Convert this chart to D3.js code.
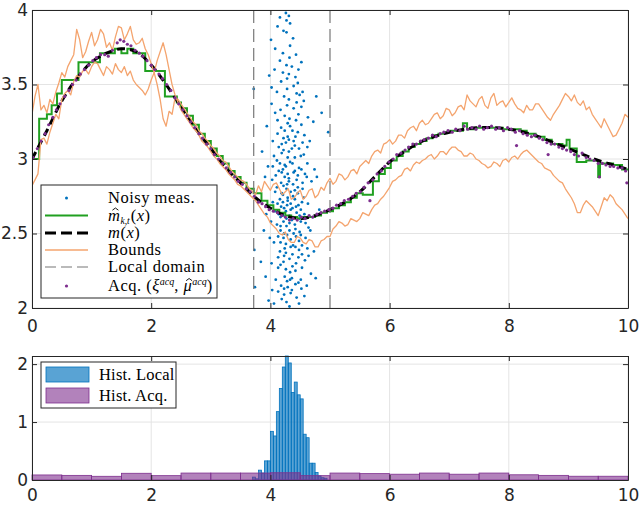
<!DOCTYPE html>
<html>
<head>
<meta charset="utf-8">
<script src="https://cdn.jsdelivr.net/npm/d3@7"></script>
<style>
body { margin: 0; background: #fff; }
svg { display: block; }
.tick text { font-family: "DejaVu Sans", sans-serif; font-size: 17px; fill: #262626; }
.leg { font-family: "Liberation Serif", "Times New Roman", serif; font-size: 16.5px; letter-spacing: 0.5px; fill: #000; }
.leg2 { font-family: "Liberation Serif", "Times New Roman", serif; font-size: 16.5px; letter-spacing: 0.2px; fill: #000; }
.sup { font-size: 10px; letter-spacing: 0; }
.sub { font-size: 9.5px; letter-spacing: 0; }
</style>
</head>
<body>
<svg id="chart" width="640" height="506"></svg>
<script>
// ---- data ----
var xTicks = [0, 2, 4, 6, 8, 10];
var yTicksTop = [2, 2.5, 3, 3.5, 4];
var yTicksBot = [0, 1, 2];
var localDomain = [3.72, 5.0];

// true mean m(x)
var meanX = [0,0.25,0.5,0.75,1,1.25,1.5,1.75,2,2.25,2.5,2.75,3,3.25,3.5,3.75,4,4.25,4.5,4.75,5,
  5.25,5.5,5.75,6,6.25,6.5,6.75,7,7.25,7.5,7.75,8,8.25,8.5,8.75,9,9.25,9.5,9.75,10];
var meanY = [3.00,3.19,3.39,3.54,3.65,3.71,3.74,3.72,3.63,3.50,3.35,3.20,3.07,2.94,2.84,2.74,2.67,2.62,2.60,2.62,2.66,
  2.71,2.78,2.88,2.98,3.05,3.11,3.15,3.18,3.20,3.21,3.21,3.20,3.18,3.15,3.11,3.07,3.03,2.99,2.96,2.93];

// estimate m_hat (piecewise constant)
var estX = [0,0.12,0.25,0.33,0.42,0.50,0.78,1.14,1.39,1.50,1.60,1.70,1.90,2.23,2.43,2.50,2.60,2.70,2.80,2.90,3.00,
  3.10,3.20,3.30,3.40,3.50,3.60,3.72,3.85,3.95,4.05,4.15,4.25,4.35,4.45,4.55,4.65,4.75,4.85,4.95,5.05,5.15,5.25,
  5.35,5.45,5.55,5.72,5.82,5.92,6.02,6.12,6.22,6.32,6.42,6.52,6.62,6.72,6.82,6.92,7.02,7.12,7.23,7.30,7.45,7.60,
  7.75,7.90,8.05,8.20,8.30,8.45,8.60,8.72,8.90,8.97,9.02,9.14,9.30,9.50,9.53,9.75,9.90,10];
var estY = [3.00,3.27,3.30,3.36,3.44,3.53,3.65,3.71,3.74,3.71,3.74,3.71,3.59,3.42,3.38,3.34,3.29,3.23,3.17,3.12,3.07,
  3.02,2.97,2.92,2.88,2.84,2.80,2.77,2.72,2.69,2.66,2.64,2.62,2.61,2.60,2.61,2.61,2.62,2.64,2.65,2.67,2.69,2.71,
  2.74,2.77,2.76,2.85,2.90,2.94,2.99,3.02,3.05,3.08,3.10,3.12,3.14,3.16,3.17,3.18,3.19,3.19,3.24,3.20,3.21,3.21,
  3.21,3.20,3.20,3.19,3.17,3.15,3.13,3.10,3.09,3.13,3.07,2.98,2.99,2.88,2.97,2.96,2.93,2.93];

// bounds, sampled every 0.05
var boundX = [0,0.05,0.1,0.15,0.2,0.25,0.3,0.35,0.4,0.45,0.5,0.55,0.6,0.65,0.7,0.75,0.8,0.85,0.9,0.95,
  1,1.05,1.1,1.15,1.2,1.25,1.3,1.35,1.4,1.45,1.5,1.55,1.6,1.65,1.7,1.75,1.8,1.85,1.9,1.95,
  2,2.05,2.1,2.15,2.2,2.25,2.3,2.35,2.4,2.45,2.5,2.55,2.6,2.65,2.7,2.75,2.8,2.85,2.9,2.95,
  3,3.05,3.1,3.15,3.2,3.25,3.3,3.35,3.4,3.45,3.5,3.55,3.6,3.65,3.7,3.75,3.8,3.85,3.9,3.95,
  4,4.05,4.1,4.15,4.2,4.25,4.3,4.35,4.4,4.45,4.5,4.55,4.6,4.65,4.7,4.75,4.8,4.85,4.9,4.95,
  5,5.05,5.1,5.15,5.2,5.25,5.3,5.35,5.4,5.45,5.5,5.55,5.6,5.65,5.7,5.75,5.8,5.85,5.9,5.95,
  6,6.05,6.1,6.15,6.2,6.25,6.3,6.35,6.4,6.45,6.5,6.55,6.6,6.65,6.7,6.75,6.8,6.85,6.9,6.95,
  7,7.05,7.1,7.15,7.2,7.25,7.3,7.35,7.4,7.45,7.5,7.55,7.6,7.65,7.7,7.75,7.8,7.85,7.9,7.95,
  8,8.05,8.1,8.15,8.2,8.25,8.3,8.35,8.4,8.45,8.5,8.55,8.6,8.65,8.7,8.75,8.8,8.85,8.9,8.95,
  9,9.05,9.1,9.15,9.2,9.25,9.3,9.35,9.4,9.45,9.5,9.55,9.6,9.65,9.7,9.75,9.8,9.85,9.9,9.95,10];
var boundUp = [3.30,3.42,3.50,3.33,3.36,3.31,3.40,3.37,3.45,3.51,3.58,3.55,3.62,3.66,3.70,3.87,3.80,3.68,3.72,3.79,
  3.85,3.76,3.80,3.87,3.84,3.75,3.78,3.73,3.82,3.89,3.88,3.80,3.84,3.89,3.80,3.77,3.78,3.81,3.74,3.70,
  3.64,3.58,3.50,3.40,3.27,3.22,3.32,3.30,3.41,3.40,3.37,3.34,3.31,3.28,3.25,3.23,3.19,3.17,3.14,3.12,
  3.09,3.07,3.04,3.02,2.99,2.98,2.95,2.92,2.90,2.88,2.86,2.85,2.83,2.80,2.78,2.76,2.82,2.78,2.85,2.82,
  2.79,2.83,2.84,2.80,2.76,2.78,2.80,2.73,2.74,2.77,2.79,2.73,2.75,2.79,2.80,2.74,2.76,2.81,2.79,2.84,
  2.87,2.83,2.85,2.90,2.89,2.86,2.88,2.92,2.93,2.90,2.95,2.97,2.99,2.97,3.02,3.05,3.06,3.04,3.10,3.11,
  3.13,3.10,3.12,3.16,3.16,3.14,3.19,3.21,3.22,3.19,3.24,3.26,3.23,3.24,3.27,3.30,3.31,3.27,3.29,3.34,
  3.33,3.29,3.31,3.35,3.36,3.33,3.43,3.39,3.37,3.35,3.40,3.42,3.36,3.34,3.41,3.44,3.36,3.38,3.39,3.35,
  3.38,3.41,3.37,3.34,3.33,3.31,3.36,3.33,3.33,3.37,3.37,3.34,3.31,3.28,3.26,3.30,3.33,3.36,3.40,3.44,
  3.42,3.39,3.43,3.38,3.36,3.39,3.33,3.35,3.30,3.27,3.24,3.21,3.27,3.23,3.19,3.15,3.16,3.20,3.24,3.30,3.28];
var boundLo = [2.82,2.86,2.90,3.13,3.14,3.10,3.18,3.24,3.30,3.27,3.40,3.44,3.46,3.43,3.52,3.56,3.55,3.59,3.60,3.57,
  3.62,3.65,3.64,3.60,3.56,3.62,3.60,3.57,3.64,3.60,3.58,3.62,3.56,3.59,3.53,3.50,3.48,3.46,3.43,3.47,
  3.53,3.58,3.66,3.72,3.78,3.70,3.60,3.50,3.43,3.38,3.33,3.30,3.27,3.24,3.21,3.19,3.16,3.12,3.10,3.08,
  3.05,3.02,3.00,2.97,2.95,2.93,2.90,2.88,2.86,2.83,2.82,2.80,2.78,2.76,2.74,2.72,2.69,2.66,2.63,2.61,
  2.57,2.55,2.53,2.50,2.49,2.51,2.46,2.44,2.44,2.48,2.47,2.44,2.43,2.46,2.45,2.41,2.41,2.45,2.46,2.48,
  2.48,2.53,2.55,2.58,2.57,2.55,2.56,2.60,2.59,2.58,2.60,2.64,2.63,2.62,2.66,2.69,2.70,2.73,2.75,2.78,
  2.81,2.85,2.86,2.88,2.89,2.93,2.94,2.92,2.96,2.98,2.97,2.99,3.00,3.02,3.03,3.00,3.02,3.05,3.05,3.03,
  3.06,3.08,3.08,3.06,3.05,3.02,3.02,3.04,3.03,3.00,2.99,2.97,2.96,2.94,2.95,2.98,2.97,2.95,2.99,3.00,
  2.98,3.01,3.02,3.00,3.03,3.05,3.06,3.04,3.02,3.00,2.98,2.97,2.94,2.93,2.92,2.89,2.87,2.85,2.84,2.80,
  2.77,2.74,2.70,2.64,2.64,2.69,2.72,2.70,2.68,2.65,2.62,2.68,2.74,2.72,2.76,2.74,2.70,2.68,2.66,2.63,2.60];

// noisy measurements in the local domain [x, y]
var noisyPts = [
  [3.72,3.47],[3.73,2.39],[3.74,2.14],[3.81,2.72],[3.84,2.31],[3.86,3.05],[3.89,2.52],
  [3.91,2.88],[3.92,2.21],[3.94,3.22],[3.93,2.63],[3.96,2.95],[3.97,2.05],[3.98,3.56],[3.99,2.47],
  [4.01,3.80],[4.02,2.30],[4.02,3.37],[4.03,2.86],[4.03,2.12],[4.04,3.12],[4.01,2.58],[4.04,2.71],[4.02,3.48],[4.03,1.98],[4.04,2.95],
  [4.06,2.44],[4.07,3.60],[4.08,2.78],[4.06,3.02],[4.09,2.19],[4.07,2.65],[4.08,3.31],[4.09,2.89],[4.06,2.03],[4.08,3.74],
  [4.11,2.56],[4.12,3.17],[4.13,2.34],[4.14,2.92],[4.11,3.45],[4.12,2.70],[4.13,2.11],[4.14,3.08],[4.11,2.81],[4.12,3.89],
  [4.13,2.48],[4.14,2.63],[4.12,3.26],[4.13,2.27],[4.11,2.99],
  [4.16,2.73],[4.17,3.33],[4.18,2.15],[4.19,2.91],[4.16,3.66],[4.17,2.52],[4.18,2.84],[4.19,3.10],[4.16,2.38],[4.17,2.61],
  [4.18,3.52],[4.19,2.06],[4.16,2.97],[4.17,2.44],[4.18,3.21],[4.19,2.77],[4.16,3.95],[4.17,2.29],[4.18,2.68],[4.19,3.04],[4.17,2.55],
  [4.21,2.62],[4.22,3.14],[4.23,2.35],[4.24,2.88],[4.21,3.71],[4.22,2.47],[4.23,2.09],[4.24,3.29],[4.21,2.76],[4.22,2.58],
  [4.23,3.42],[4.24,2.21],[4.21,2.93],[4.22,3.06],[4.23,2.67],[4.24,2.40],[4.21,3.58],[4.22,2.82],[4.23,2.13],[4.24,3.19],
  [4.21,2.71],[4.22,3.86],[4.23,2.50],[4.24,2.96],[4.22,2.31],
  [4.26,3.98],[4.27,2.60],[4.28,2.83],[4.29,3.24],[4.26,2.43],[4.27,3.93],[4.28,2.18],[4.29,2.74],[4.26,3.11],[4.27,2.55],
  [4.28,3.47],[4.29,2.90],[4.26,2.26],[4.27,3.63],[4.28,2.69],[4.29,3.01],[4.26,2.37],[4.27,2.80],[4.28,3.36],[4.29,2.14],
  [4.26,2.65],[4.27,3.85],[4.28,2.49],[4.29,3.15],[4.26,2.95],[4.27,2.04],[4.28,3.54],[4.29,2.72],
  [4.31,3.96],[4.32,2.57],[4.33,3.22],[4.34,2.41],[4.31,2.87],[4.32,3.68],[4.33,2.19],[4.34,2.66],[4.31,3.05],[4.32,2.33],
  [4.33,3.91],[4.34,2.78],[4.31,3.40],[4.32,2.52],[4.33,2.98],[4.34,2.10],[4.31,3.13],[4.32,2.62],[4.33,3.76],[4.34,2.46],
  [4.31,2.85],[4.32,3.27],[4.33,2.24],[4.34,2.70],[4.31,3.57],[4.32,2.01],
  [4.36,2.59],[4.37,3.19],[4.38,2.42],[4.39,2.91],[4.36,3.62],[4.37,2.28],[4.38,2.75],[4.39,3.34],[4.36,2.12],[4.37,2.67],
  [4.38,3.81],[4.39,2.50],[4.36,3.07],[4.37,2.36],[4.38,2.83],[4.39,3.49],[4.36,2.20],[4.37,2.97],[4.38,2.61],[4.39,3.12],
  [4.41,3.09],[4.42,2.53],[4.43,2.30],[4.44,3.44],[4.41,2.79],[4.42,2.16],[4.43,3.70],[4.44,2.64],[4.41,2.92],[4.42,2.41],
  [4.43,3.26],[4.44,2.07],[4.41,2.73],[4.42,3.55],[4.43,2.48],[4.44,2.86],[4.41,3.01],[4.42,2.25],[4.43,2.68],[4.44,3.38],
  [4.41,2.56],[4.42,3.15],
  [4.46,2.77],[4.47,3.30],[4.48,2.39],[4.49,2.60],[4.46,3.51],[4.47,2.17],[4.48,2.94],[4.49,2.51],[4.46,3.18],[4.47,2.69],
  [4.48,2.03],[4.49,3.43],[4.46,2.81],[4.47,2.34],[4.48,3.07],[4.49,2.62],[4.46,2.89],[4.47,3.60],[4.48,2.45],
  [4.51,2.58],[4.52,3.23],[4.53,2.36],[4.54,2.84],[4.51,3.02],[4.52,2.13],[4.53,2.71],[4.54,3.45],[4.51,2.49],[4.52,2.93],
  [4.53,2.27],[4.54,3.11],[4.51,2.66],[4.52,3.65],[4.53,2.42],[4.54,2.80],[4.51,2.19],[4.52,3.35],
  [4.56,2.74],[4.57,3.16],[4.58,2.32],[4.59,2.57],[4.56,3.39],[4.57,2.08],[4.58,2.90],[4.59,2.47],[4.56,3.03],[4.57,2.63],
  [4.61,2.88],[4.62,2.40],[4.63,3.28],[4.64,2.54],[4.61,2.15],[4.62,3.08],[4.63,2.70],[4.64,2.35],[4.62,2.97],
  [4.66,3.12],[4.67,2.52],[4.68,2.23],[4.69,2.85],[4.71,2.61],[4.72,3.25],[4.73,2.38],[4.74,2.93],
  [4.77,3.42],[4.76,2.20],[4.78,2.88],[4.82,2.66],[4.86,3.31],[4.97,3.18]
];

// acquired points [xi, mu_hat]
var acqPts = [
  [0.02,3.01],[0.09,3.07],[0.15,3.12],[0.22,3.17],[0.28,3.23],[0.35,3.28],[0.41,3.33],[0.47,3.37],[0.55,3.42],[0.62,3.46],
  [0.68,3.50],[0.74,3.53],[0.81,3.57],[0.88,3.60],[0.95,3.63],[1.02,3.66],[1.08,3.68],[1.15,3.70],[1.22,3.70],[1.28,3.69],
  [1.35,3.73],[1.43,3.78],[1.48,3.80],[1.54,3.79],[1.60,3.77],[1.66,3.76],[1.73,3.73],[1.80,3.71],[1.86,3.69],[1.93,3.66],
  [2.00,3.63],[2.06,3.60],[2.13,3.57],[2.19,3.54],[2.26,3.50],[2.33,3.46],[2.40,3.41],[2.46,3.37],[2.53,3.33],[2.60,3.29],
  [2.66,3.25],[2.73,3.21],[2.80,3.17],[2.86,3.14],[2.93,3.10],[3.00,3.07],[3.06,3.03],[3.13,3.00],[3.20,2.97],[3.26,2.94],
  [3.33,2.91],[3.40,2.88],[3.46,2.85],[3.53,2.83],[3.60,2.80],[3.66,2.78],[3.73,2.75],[3.80,2.71],[3.86,2.70],[3.92,2.68],
  [3.98,2.66],[4.05,2.65],[4.12,2.64],[4.19,2.62],[4.25,2.61],[4.32,2.59],[4.38,2.60],[4.45,2.59],[4.52,2.61],[4.58,2.60],
  [4.65,2.62],[4.71,2.61],[4.78,2.63],[4.85,2.64],[4.91,2.65],[4.98,2.66],[5.05,2.67],[5.11,2.69],[5.18,2.70],[5.24,2.72],
  [5.31,2.73],[5.38,2.75],[5.44,2.77],[5.51,2.78],[5.57,2.81],[5.64,2.84],[5.67,2.72],[5.72,2.86],[5.79,2.90],[5.86,2.92],
  [5.92,2.95],[5.99,2.98],[6.06,3.00],[6.12,3.03],[6.19,3.04],[6.26,3.06],[6.32,3.08],[6.39,3.10],[6.45,3.10],[6.52,3.12],
  [6.58,3.13],[6.65,3.14],[6.72,3.16],[6.78,3.15],[6.85,3.17],[6.91,3.18],[6.98,3.19],[7.05,3.18],[7.11,3.20],[7.18,3.19],
  [7.25,3.22],[7.31,3.20],[7.38,3.21],[7.45,3.20],[7.51,3.22],[7.58,3.20],[7.64,3.21],[7.71,3.22],[7.78,3.20],[7.84,3.21],
  [7.91,3.19],[7.98,3.21],[8.04,3.20],[8.11,3.18],[8.13,3.09],[8.18,3.19],[8.24,3.17],[8.31,3.16],[8.38,3.15],[8.44,3.16],
  [8.51,3.14],[8.57,3.13],[8.64,3.11],[8.66,3.03],[8.71,3.10],[8.77,3.10],[8.84,3.08],[8.90,3.07],[8.97,3.06],[9.04,3.05],
  [9.10,3.03],[9.17,3.02],[9.23,3.04],[9.30,3.01],[9.36,3.00],[9.43,2.99],[9.50,2.97],[9.52,2.88],[9.57,2.97],[9.63,2.96],
  [9.70,2.95],[9.76,2.95],[9.83,2.94],[9.90,2.94],[9.96,2.92],[9.98,2.84]
];

// histograms (pdf normalised)
var localBinW = 0.05;
var localEdges = [3.70,3.75,3.80,3.85,3.90,3.95,4.00,4.05,4.10,4.15,4.20,4.25,4.30,4.35,4.40,4.45,4.50,4.55,4.60,
  4.65,4.70,4.75,4.80,4.85,4.90];
var localDens = [0.05,0.02,0.17,0.12,0.33,0.33,0.84,0.76,1.18,1.58,1.95,2.14,2.02,1.51,1.69,1.47,1.40,0.79,0.73,
  0.29,0.29,0.13,0.07,0.04,0.03];
var acqBinW = 0.5;
var acqEdges = [0,0.5,1,1.5,2,2.5,3,3.5,4,4.5,5,5.5,6,6.5,7,7.5,8,8.5,9,9.5];
var acqDens = [0.087,0.080,0.064,0.116,0.075,0.120,0.120,0.120,0.125,0.075,0.120,0.110,0.100,0.120,0.100,0.120,
  0.090,0.080,0.065,0.065];

// ---- drawing ----
var cBlue = "#0072BD", cPurple = "#7E2F8E", cGreen = "#20A020", cOrange = "#F4A46E", cAxis = "#262626";
var svg = d3.select("#chart");

var x = d3.scaleLinear().domain([0, 10]).range([32, 628]);
var yTop = d3.scaleLinear().domain([2, 4]).range([308, 10]);
var yBot = d3.scaleLinear().domain([0, d3.max(localDens)]).range([480, 356]);

function grid(g, y, yVals) {
    g.append("g").selectAll("line").data(xTicks).join("line")
        .attr("x1", d => x(d)).attr("x2", d => x(d))
        .attr("y1", y.range()[0]).attr("y2", y.range()[1])
        .attr("stroke", "#e4e4e4").attr("stroke-width", 1);
    g.append("g").selectAll("line").data(yVals).join("line")
        .attr("x1", x.range()[0]).attr("x2", x.range()[1])
        .attr("y1", d => y(d)).attr("y2", d => y(d))
        .attr("stroke", "#e4e4e4").attr("stroke-width", 1);
}

function axes(g, y, yVals, fmt, pad) {
    var y0 = y.range()[0], y1 = y.range()[1];
    var bottom = g.append("g").attr("transform", "translate(0," + y0 + ")")
        .call(d3.axisBottom(x).tickValues(xTicks).tickSizeInner(-5).tickSizeOuter(0).tickPadding(pad));
    var top = g.append("g").attr("transform", "translate(0," + y1 + ")")
        .call(d3.axisTop(x).tickValues(xTicks).tickSizeInner(-5).tickSizeOuter(0).tickFormat(""));
    var left = g.append("g").attr("transform", "translate(" + x.range()[0] + ",0)")
        .call(d3.axisLeft(y).tickValues(yVals).tickSizeInner(-5).tickSizeOuter(0).tickPadding(4).tickFormat(fmt));
    var right = g.append("g").attr("transform", "translate(" + x.range()[1] + ",0)")
        .call(d3.axisRight(y).tickValues(yVals).tickSizeInner(-5).tickSizeOuter(0).tickFormat(""));
    [bottom, top, left, right].forEach(function(a) {
        a.selectAll("path.domain").attr("stroke", cAxis).attr("stroke-width", 1);
        a.selectAll(".tick line").attr("stroke", cAxis).attr("stroke-width", 1);
    });
}

// ---------- top panel ----------
var gTop = svg.append("g");
grid(gTop, yTop, yTicksTop);

svg.append("clipPath").attr("id", "clipTop").append("rect")
    .attr("x", x(0)).attr("y", yTop(4)).attr("width", x(10) - x(0)).attr("height", yTop(2) - yTop(4));
var plot = gTop.append("g").attr("clip-path", "url(#clipTop)");

plot.append("g").selectAll("circle").data(noisyPts).join("circle")
    .attr("cx", d => x(d[0])).attr("cy", d => yTop(d[1])).attr("r", 1.4).attr("fill", cBlue);

plot.append("path").datum(d3.zip(estX, estY))
    .attr("d", d3.line().x(d => x(d[0])).y(d => yTop(d[1])).curve(d3.curveStepAfter))
    .attr("fill", "none").attr("stroke", cGreen).attr("stroke-width", 2);

plot.append("path").datum(d3.zip(meanX, meanY))
    .attr("d", d3.line().x(d => x(d[0])).y(d => yTop(d[1])).curve(d3.curveCatmullRom))
    .attr("fill", "none").attr("stroke", "#000").attr("stroke-width", 3)
    .attr("stroke-dasharray", "8,5");

[boundUp, boundLo].forEach(function(b) {
    plot.append("path").datum(d3.zip(boundX, b))
        .attr("d", d3.line().x(d => x(d[0])).y(d => yTop(d[1])))
        .attr("fill", "none").attr("stroke", cOrange).attr("stroke-width", 1.3)
        .attr("stroke-linejoin", "round");
});

plot.append("g").selectAll("line").data(localDomain).join("line")
    .attr("x1", d => x(d)).attr("x2", d => x(d)).attr("y1", yTop(2)).attr("y2", yTop(4))
    .attr("stroke", "#777").attr("stroke-width", 1.2).attr("stroke-dasharray", "13,6");

plot.append("g").selectAll("circle").data(acqPts).join("circle")
    .attr("cx", d => x(d[0])).attr("cy", d => yTop(d[1])).attr("r", 1.6).attr("fill", cPurple);

axes(gTop, yTop, yTicksTop, d3.format("~g"), 12);

// legend (top)
var lg = svg.append("g");
lg.append("rect").attr("x", 41).attr("y", 185).attr("width", 176).attr("height", 113)
    .attr("fill", "#fff").attr("stroke", cAxis).attr("stroke-width", 1);
var rows = [198, 215.5, 233, 250, 267, 286];
lg.append("circle").attr("cx", 66.5).attr("cy", rows[0]).attr("r", 1.5).attr("fill", cBlue);
lg.append("line").attr("x1", 45).attr("x2", 88).attr("y1", rows[1]).attr("y2", rows[1])
    .attr("stroke", cGreen).attr("stroke-width", 2);
lg.append("line").attr("x1", 45).attr("x2", 88).attr("y1", rows[2]).attr("y2", rows[2])
    .attr("stroke", "#000").attr("stroke-width", 3).attr("stroke-dasharray", "11,5");
lg.append("line").attr("x1", 45).attr("x2", 88).attr("y1", rows[3]).attr("y2", rows[3])
    .attr("stroke", cOrange).attr("stroke-width", 1.3);
lg.append("line").attr("x1", 45).attr("x2", 88).attr("y1", rows[4]).attr("y2", rows[4])
    .attr("stroke", "#777").attr("stroke-width", 1.2).attr("stroke-dasharray", "11,5");
lg.append("circle").attr("cx", 66.5).attr("cy", rows[5]).attr("r", 1.6).attr("fill", cPurple);

function ltext(yy) {
    return lg.append("text").attr("class", "leg").attr("x", 108).attr("y", yy + 5);
}
// small hat drawn as a stroke above character i of a text
function hat(t, i) {
    var ext = t.node().getExtentOfChar(i);
    var cx = ext.x + ext.width / 2 + 1.2, top = +t.attr("y") - 12.5;
    lg.append("path")
        .attr("d", "M" + (cx - 3) + "," + (top + 2.2) + "L" + cx + "," + top + "L" + (cx + 3) + "," + (top + 2.2))
        .attr("fill", "none").attr("stroke", "#000").attr("stroke-width", 0.9);
}
ltext(rows[0]).text("Noisy meas.");
var t1 = ltext(rows[1]);
t1.append("tspan").attr("font-style", "italic").text("m");
t1.append("tspan").attr("class", "sub").attr("font-style", "italic").attr("dy", 3).text("k,t");
t1.append("tspan").attr("dy", -3).attr("dx", 1).text("(");
t1.append("tspan").attr("font-style", "italic").text("x");
t1.append("tspan").text(")");
hat(t1, 0);
var t2 = ltext(rows[2]);
t2.append("tspan").attr("font-style", "italic").text("m");
t2.append("tspan").text("(");
t2.append("tspan").attr("font-style", "italic").text("x");
t2.append("tspan").text(")");
ltext(rows[3]).text("Bounds");
ltext(rows[4]).text("Local domain");
var t5 = ltext(rows[5]);
t5.append("tspan").text("Acq. (");
t5.append("tspan").attr("font-style", "italic").text("\u03BE");
t5.append("tspan").attr("class", "sup").attr("font-style", "italic").attr("dy", -6).text("acq");
t5.append("tspan").attr("dy", 6).text(", ");
t5.append("tspan").attr("font-style", "italic").text("\u03BC");
t5.append("tspan").attr("class", "sup").attr("font-style", "italic").attr("dy", -6).text("acq");
t5.append("tspan").attr("dy", 6).text(")");
hat(t5, t5.text().indexOf("\u03BC"));

// ---------- bottom panel ----------
var gBot = svg.append("g");
grid(gBot, yBot, yTicksBot);

gBot.append("g").selectAll("rect").data(d3.zip(localEdges, localDens)).join("rect")
    .attr("x", d => x(d[0])).attr("width", d => x(d[0] + localBinW) - x(d[0]))
    .attr("y", d => yBot(d[1])).attr("height", d => yBot(0) - yBot(d[1]))
    .attr("fill", cBlue).attr("fill-opacity", 0.65).attr("stroke", cBlue).attr("stroke-width", 0.8);

gBot.append("g").selectAll("rect").data(d3.zip(acqEdges, acqDens)).join("rect")
    .attr("x", d => x(d[0])).attr("width", d => x(d[0] + acqBinW) - x(d[0]))
    .attr("y", d => yBot(d[1])).attr("height", d => yBot(0) - yBot(d[1]))
    .attr("fill", cPurple).attr("fill-opacity", 0.6).attr("stroke", cPurple).attr("stroke-width", 0.8);

axes(gBot, yBot, yTicksBot, d3.format("d"), 9);

// legend (bottom)
var lb = svg.append("g");
lb.append("rect").attr("x", 41).attr("y", 362).attr("width", 135).attr("height", 46)
    .attr("fill", "#fff").attr("stroke", cAxis).attr("stroke-width", 1);
lb.append("rect").attr("x", 46).attr("y", 367).attr("width", 43).attr("height", 15)
    .attr("fill", cBlue).attr("fill-opacity", 0.65).attr("stroke", cBlue).attr("stroke-width", 0.8);
lb.append("rect").attr("x", 46).attr("y", 388).attr("width", 43).attr("height", 15)
    .attr("fill", cPurple).attr("fill-opacity", 0.6).attr("stroke", cPurple).attr("stroke-width", 0.8);
lb.append("text").attr("class", "leg2").attr("x", 99).attr("y", 380).text("Hist. Local");
lb.append("text").attr("class", "leg2").attr("x", 99).attr("y", 401).text("Hist. Acq.");
</script>
</body>
</html>
